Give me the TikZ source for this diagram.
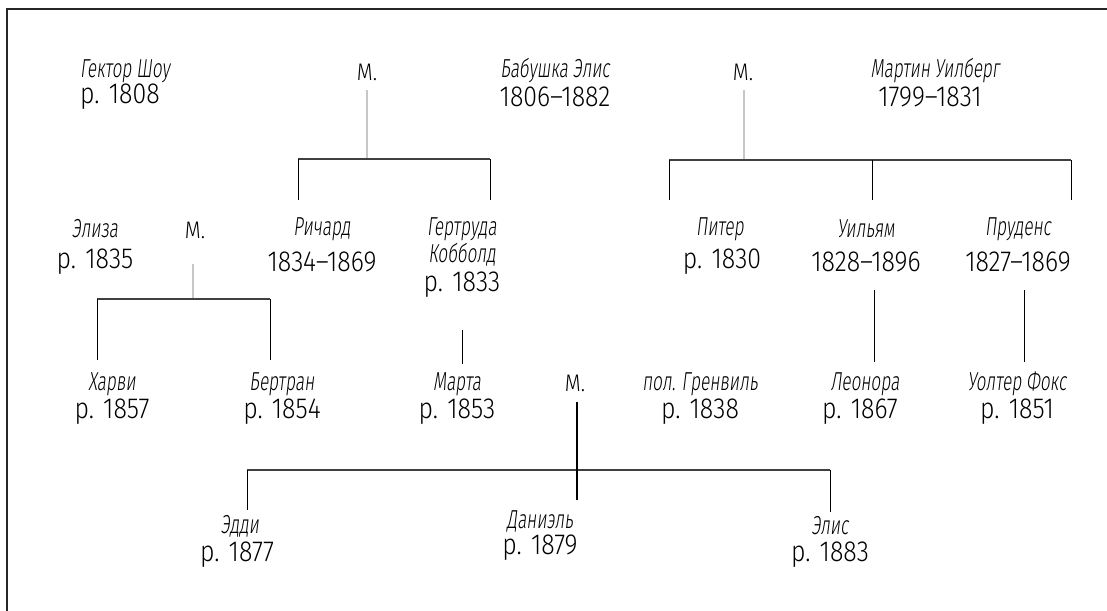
\documentclass[tikz,border=0pt]{standalone}
\usepackage{fontspec}
\setmainfont{Fira Sans Light}
\newfontfamily\namefont[FakeStretch=0.66,FakeSlant=0.12]{Fira Sans Light}
\newfontfamily\datefont[FakeStretch=0.86]{Fira Sans Light}
\tikzset{
  nm/.style={font=\namefont\fontsize{26}{26}\selectfont, inner sep=0pt},
  dt/.style={font=\datefont\fontsize{29}{29}\selectfont, inner sep=0pt},
  mm/.style={font=\datefont\fontsize{24}{24}\selectfont, inner sep=0pt},
  marr/.style={draw=black!22, line width=1.6pt},
  bar/.style={draw=black!75, line width=1.5pt},
  drop/.style={draw=black, line width=1pt},
}
\begin{document}
\begin{tikzpicture}[x=1pt,y=-1pt]
\useasboundingbox (0,0) rectangle (1107,610);
\fill[white] (0,0) rectangle (1107,610);
\draw[line width=2pt, black!85] (7,615) -- (7,9) -- (1112,9);

% Row 1
\node[nm] (hector) at (125,71) {Гектор Шоу};
\node[dt] (hectord) at (120,97) {р. 1808};
\node[mm] (m1) at (367,72) {М.};
\node[nm] (alice) at (555,71) {Бабушка Элис};
\node[dt] (aliced) at (555,97) {1806–1882};
\node[mm] (m2) at (743,72) {М.};
\node[nm] (martin) at (935,71) {Мартин Уилберг};
\node[dt] (martind) at (930,97) {1799–1831};

% Row 2
\node[nm] (eliza) at (95,229) {Элиза};
\node[dt] (elizad) at (95,262) {р. 1835};
\node[mm] (m3) at (195,230) {М.};
\node[nm] (richard) at (322,229) {Ричард};
\node[dt] (richardd) at (322,262) {1834–1869};
\node[nm] (gert) at (462,229) {Гертруда};
\node[nm] (gert2) at (462,255) {Кобболд};
\node[dt] (gertd) at (462,285) {р. 1833};
\node[nm] (peter) at (720,229) {Питер};
\node[dt] (peterd) at (722,262) {р. 1830};
\node[nm] (william) at (866,229) {Уильям};
\node[dt] (williamd) at (866,262) {1828–1896};
\node[nm] (pru) at (1018,229) {Пруденс};
\node[dt] (prud) at (1018,262) {1827–1869};

% Row 3
\node[nm] (harvey) at (112,384) {Харви};
\node[dt] (harveyd) at (112,412) {р. 1857};
\node[nm] (bertran) at (282,384) {Бертран};
\node[dt] (bertrand) at (282,412) {р. 1854};
\node[nm] (marta) at (457,384) {Марта};
\node[dt] (martad) at (457,412) {р. 1853};
\node[mm] (m4) at (575,383) {М.};
\node[nm] (gren) at (700,384) {пол. Гренвиль};
\node[dt] (grend) at (700,412) {р. 1838};
\node[nm] (leon) at (865,384) {Леонора};
\node[dt] (leond) at (860,412) {р. 1867};
\node[nm] (walter) at (1017,384) {Уолтер Фокс};
\node[dt] (walterd) at (1017,412) {р. 1851};

% Row 4
\node[nm] (eddy) at (240,526) {Эдди};
\node[dt] (eddyd) at (237,555) {р. 1877};
\node[nm] (dan) at (540,521) {Даниэль};
\node[dt] (dand) at (540,548) {р. 1879};
\node[nm] (elis) at (830,526) {Элис};
\node[dt] (elisd) at (830,555) {р. 1883};

% junction coordinates
\coordinate (j1t) at (367,90);  \coordinate (j1) at (367,159);
\coordinate (j1l) at (298,159); \coordinate (j1r) at (490,159);
\coordinate (c1l) at (298,200); \coordinate (c1r) at (490,200);
\coordinate (j2t) at (744,90);  \coordinate (j2) at (744,160);
\coordinate (j2l) at (669,160); \coordinate (j2m) at (872,160); \coordinate (j2r) at (1071,160);
\coordinate (c2l) at (669,200); \coordinate (c2m) at (872,200); \coordinate (c2r) at (1071,200);
\coordinate (j3t) at (193,264); \coordinate (j3) at (193,299);
\coordinate (j3l) at (97,299);  \coordinate (j3r) at (270,299);
\coordinate (c3l) at (97,360);  \coordinate (c3r) at (270,360);
\coordinate (g1) at (462,330);  \coordinate (g2) at (462,364);
\coordinate (w1) at (874,290);  \coordinate (w2) at (874,362);
\coordinate (p1) at (1024,290); \coordinate (p2) at (1024,362);
\coordinate (j4t) at (577,402); \coordinate (j4) at (577,470); \coordinate (j4b) at (577,500);
\coordinate (j4l) at (247,470); \coordinate (j4r) at (830,470);
\coordinate (c4l) at (247,510); \coordinate (c4r) at (830,512);

% marriage drops
\draw[marr] (j1t) -- (j1);
\draw[marr] (j2t) -- (j2);
\draw[marr] (j3t) -- (j3);
% bars
\draw[bar] (j1l) -- (j1r);
\draw[bar] (j2l) -- (j2r);
\draw[bar] (j3l) -- (j3r);
\draw[bar] (j4l) -- (j4r);
% child drops
\draw[drop] (j1l) -- (c1l);
\draw[drop] (j1r) -- (c1r);
\draw[drop] (j2l) -- (c2l);
\draw[drop] (j2m) -- (c2m);
\draw[drop] (j2r) -- (c2r);
\draw[drop] (j3l) -- (c3l);
\draw[drop] (j3r) -- (c3r);
\draw[drop] (g1) -- (g2);
\draw[drop] (w1) -- (w2);
\draw[drop] (p1) -- (p2);
\draw[draw=black, line width=1.8pt] (j4t) -- (j4b);
\draw[drop] (j4l) -- (c4l);
\draw[drop] (j4r) -- (c4r);
\end{tikzpicture}
\end{document}
